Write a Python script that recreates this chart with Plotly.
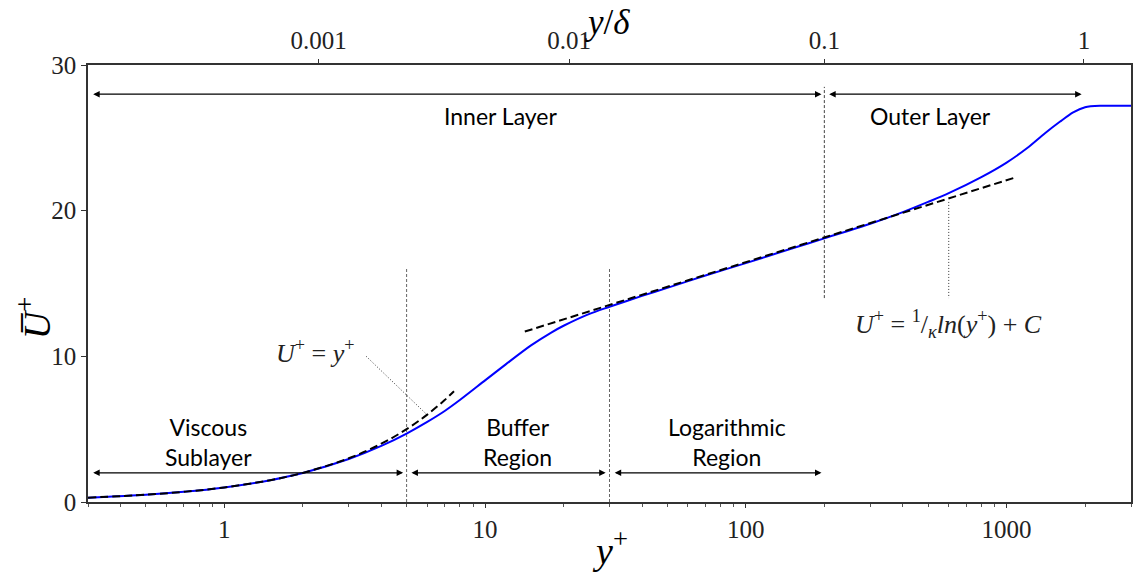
import numpy as np
import plotly.graph_objects as go

# ---- data ----
yplus = [0.3, 0.5, 0.7, 1, 1.5, 2, 3, 4, 5, 6, 7, 8, 10, 12, 15, 18, 20, 25, 30, 40, 50, 70,
         100, 150, 200, 300, 400, 500, 600, 800, 1000, 1200, 1400, 1600, 1800, 2000, 2300, 3000]
uplus = [0.3, 0.5, 0.7, 1.0, 1.5, 1.99, 2.95, 3.85, 4.7, 5.5, 6.25, 7.0, 8.35, 9.45, 10.75, 11.65,
         12.1, 12.9, 13.4, 14.15, 14.7, 15.55, 16.4, 17.4, 18.1, 19.1, 19.9, 20.6, 21.2, 22.3, 23.3,
         24.3, 25.3, 26.1, 26.75, 27.1, 27.2, 27.2]

visc_y = [0.3, 0.5, 0.7, 1, 1.5, 2, 3, 4, 5, 6, 7, 7.6]
visc_u = [0.3, 0.5, 0.7, 1, 1.5, 2, 3, 4, 5, 6, 7, 7.6]

log_y = [14.2, 1090]
log_u = [11.7, 22.3]

bottom_ticks = [1, 10, 100, 1000]
bottom_labels = ["1", "10", "100", "1000"]
top_tick_pos = [2.3, 21, 200, 1980]
top_labels = ["0.001", "0.01", "0.1", "1"]
y_ticks = [0, 10, 20, 30]

region_bounds = [5, 30]
region_line_top = 16
outer_bound = 200

XMIN, XMAX = 0.3, 3000

fig = go.Figure()

# vertical guide lines
for xb in region_bounds:
    fig.add_trace(go.Scatter(x=[xb, xb], y=[0, region_line_top], mode="lines",
                             line=dict(color="#666666", width=1, dash="3px,2px"),
                             showlegend=False, hoverinfo="skip"))
fig.add_trace(go.Scatter(x=[outer_bound, outer_bound], y=[14, 28.5], mode="lines",
                         line=dict(color="#444444", width=1, dash="3px,2px"),
                         showlegend=False, hoverinfo="skip"))

# dotted pointers
fig.add_trace(go.Scatter(x=[3.5, 5.9], y=[10.0, 6.1], mode="lines",
                         line=dict(color="black", width=0.8, dash="1px,2px"),
                         showlegend=False, hoverinfo="skip"))
fig.add_trace(go.Scatter(x=[600, 600], y=[20.6, 14.0], mode="lines",
                         line=dict(color="black", width=0.8, dash="1px,2px"),
                         showlegend=False, hoverinfo="skip"))

# main profile
fig.add_trace(go.Scatter(x=yplus, y=uplus, mode="lines",
                         line=dict(color="#0000ff", width=2, shape="spline", smoothing=0.8),
                         showlegend=False))
# viscous law
fig.add_trace(go.Scatter(x=visc_y, y=visc_u, mode="lines",
                         line=dict(color="black", width=2, dash="8px,4px", shape="spline"),
                         showlegend=False))
# log law
fig.add_trace(go.Scatter(x=log_y, y=log_u, mode="lines",
                         line=dict(color="black", width=2, dash="8px,4px"),
                         showlegend=False))
# dummy trace for top axis
fig.add_trace(go.Scatter(x=[XMIN, XMAX], y=[None, None], xaxis="x2", mode="lines",
                         showlegend=False, hoverinfo="skip"))

L = np.log10
ann = []


def arrow(x0, x1, y):
    ann.append(dict(x=L(x1), y=y, ax=L(x0), ay=y, xref="x", yref="y", axref="x", ayref="y",
                    text="", showarrow=True, arrowhead=2, startarrowhead=2, arrowside="end+start",
                    arrowwidth=1.3, arrowsize=1.0, startarrowsize=1.0, arrowcolor="black",
                    standoff=0, startstandoff=0))


arrow(0.31, 195, 28)
arrow(206, 1940, 28)
arrow(0.31, 4.85, 2)
arrow(5.15, 29, 2)
arrow(31, 195, 2)

sans = dict(family="Lato, 'Open Sans', sans-serif", size=23, color="black")
serif = dict(family="'Liberation Serif', 'DejaVu Serif', serif", size=26, color="#222")
titlefont = dict(family="'Liberation Serif', 'DejaVu Serif', serif", size=38, color="black")
toptitlefont = dict(family="'Liberation Serif', 'DejaVu Serif', serif", size=35, color="black")


def label(x, y, text, font):
    ann.append(dict(x=L(x), y=y, xref="x", yref="y", text=text, showarrow=False, font=font,
                    align="center"))


label(11.5, 26.5, "Inner Layer", sans)
label(509, 26.5, "Outer Layer", sans)
label(0.866, 4.1, "Viscous<br>Sublayer", sans)
label(13.3, 4.1, "Buffer<br>Region", sans)
label(84.9, 4.1, "Logarithmic<br>Region", sans)
label(2.24, 10.3, "<i>U</i><sup>+</sup> = <i>y</i><sup>+</sup>", serif)
label(598, 12.2, "<i>U</i><sup>+</sup> = <sup>1</sup>/<sub><i>κ</i></sub><i>ln</i>(<i>y</i><sup>+</sup>) + <i>C</i>", serif)

# axis titles
ann.append(dict(x=0.5, y=-0.105, xref="paper", yref="paper", text="<i>y</i><sup>+</sup>",
                showarrow=False, font=titlefont, xanchor="center", yanchor="middle"))
ann.append(dict(x=0.498, y=1.098, xref="paper", yref="paper", text="<i>y</i>/<i>δ</i>",
                showarrow=False, font=toptitlefont, xanchor="center", yanchor="middle"))
ann.append(dict(x=-0.051, y=0.42, xref="paper", yref="paper", text="<i>U̅</i><sup>+</sup>",
                showarrow=False, font=titlefont, xanchor="center", yanchor="middle",
                textangle=-90))

tickfont = dict(family="'Liberation Serif', 'DejaVu Serif', serif", size=25, color="#222")

fig.update_layout(
    width=1134, height=579,
    margin=dict(l=88, r=3, t=65, b=77, autoexpand=False),
    plot_bgcolor="white", paper_bgcolor="white",
    annotations=ann,
    xaxis=dict(type="log", range=[L(XMIN), L(XMAX)], tickvals=bottom_ticks, ticktext=bottom_labels,
               ticks="outside", ticklen=4, tickcolor="#333", tickfont=tickfont, automargin=False,
               showline=True, linecolor="#333", linewidth=1.5, mirror=False,
               showgrid=False, zeroline=False,
               minor=dict(ticks="outside", ticklen=3, tickcolor="#555", dtick="D1", showgrid=False)),
    xaxis2=dict(type="log", range=[L(XMIN), L(XMAX)], overlaying="x", side="top",
                tickvals=top_tick_pos, ticktext=top_labels, ticks="outside", ticklen=4,
                tickcolor="#333", tickfont=tickfont, showline=True, linecolor="#333", linewidth=1.5,
                showgrid=False, zeroline=False, automargin=False),
    yaxis=dict(range=[0, 30], tickvals=y_ticks, ticks="outside", ticklen=5, tickcolor="#333",
               tickfont=tickfont, showline=True, linecolor="#333", linewidth=1.5, mirror=True,
               showgrid=False, zeroline=False, automargin=False),
)

fig.write_html("out.html", config={"displayModeBar": False},
               post_script="document.body.style.margin='0';")
